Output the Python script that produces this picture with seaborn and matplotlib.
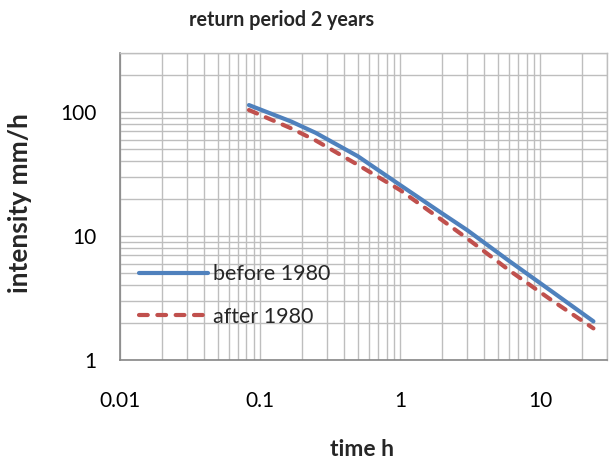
import matplotlib
matplotlib.use("Agg")
import matplotlib.pyplot as plt
from matplotlib.ticker import LogLocator, NullFormatter, FixedLocator, FixedFormatter
import seaborn as sns
import pandas as pd

# ---- data ----
time_h = [0.0833, 0.1667, 0.25, 0.5, 1, 2, 3, 6, 12, 24]
before_1980 = [114, 84, 68, 44, 25.8, 15.2, 11.2, 6.3, 3.6, 2.05]
after_1980 = [104, 74, 59, 37.5, 23.5, 13.4, 9.6, 5.3, 3.05, 1.8]
series_names = ["before 1980", "after 1980"]
x_ticks = [0.01, 0.1, 1, 10]
x_tick_labels = ["0.01", "0.1", "1", "10"]
y_ticks = [1, 10, 100]
y_tick_labels = ["1", "10", "100"]

df = pd.DataFrame({
    "time": time_h * 2,
    "intensity": before_1980 + after_1980,
    "period": [series_names[0]] * len(time_h) + [series_names[1]] * len(time_h),
})

sns.set_style("white")
plt.rcParams["font.family"] = ["Lato", "DejaVu Sans"]

fig = plt.figure(figsize=(6.1, 4.58), dpi=100)
ax = fig.add_axes([120 / 610, 1 - 360 / 458, 487 / 610, 307 / 458])

blue = "#4F81BD"
red = "#C0504D"
sns.lineplot(data=df, x="time", y="intensity", hue="period", style="period",
             palette={series_names[0]: blue, series_names[1]: red},
             dashes={series_names[0]: "", series_names[1]: (2.1, 2.3)},
             linewidth=3.0, ax=ax, sort=False)
for ln in ax.get_lines():
    ln.set_dash_capstyle("round")
    ln.set_solid_capstyle("round")
    ln.set_solid_joinstyle("round")

ax.set_xscale("log")
ax.set_yscale("log")
ax.set_xlim(0.01, 30)
ax.set_ylim(1, 300)

grid_c = "#BEBEBE"
ax.xaxis.set_major_locator(FixedLocator(x_ticks))
ax.xaxis.set_major_formatter(FixedFormatter(x_tick_labels))
ax.yaxis.set_major_locator(FixedLocator(y_ticks))
ax.yaxis.set_major_formatter(FixedFormatter(y_tick_labels))
ax.xaxis.set_minor_locator(LogLocator(base=10, subs=range(2, 10), numticks=20))
ax.yaxis.set_minor_locator(LogLocator(base=10, subs=range(2, 10), numticks=20))
ax.xaxis.set_minor_formatter(NullFormatter())
ax.yaxis.set_minor_formatter(NullFormatter())

ax.grid(True, which="both", color=grid_c, linewidth=1.0)
ax.set_axisbelow(True)

axis_c = "#868686"
for s in ["left", "bottom"]:
    ax.spines[s].set_color(axis_c)
    ax.spines[s].set_linewidth(1.2)
for s in ["top", "right"]:
    ax.spines[s].set_color(grid_c)
    ax.spines[s].set_linewidth(1.0)

ax.tick_params(axis="both", which="major", direction="inout", length=8, width=1.2,
               color=axis_c, labelsize=15, labelcolor="black")
ax.tick_params(axis="both", which="minor", direction="in", length=4, width=1.0,
               color=axis_c)
ax.tick_params(axis="x", which="major", pad=18)
ax.tick_params(axis="y", which="major", pad=13)

ax.set_xlabel("")
ax.set_ylabel("")

leg = ax.legend(loc="center left", bbox_to_anchor=(0.04, 0.21), frameon=False,
                fontsize=15.5, handlelength=3.2, handletextpad=0.2,
                labelspacing=1.05, borderpad=0, borderaxespad=0)

fig.text(282 / 610, 1 - 20 / 458, "return period 2 years", ha="center", va="center",
         fontsize=14.2, fontweight="bold")
fig.text(362 / 610, 1 - 449 / 458, "time h", ha="center", va="center",
         fontsize=16.5, fontweight="bold")
fig.text(20 / 610, 1 - 203 / 458, "intensity mm/h", ha="center", va="center",
         rotation=90, fontsize=19, fontweight="bold")

fig.savefig("out.png", dpi=100)
